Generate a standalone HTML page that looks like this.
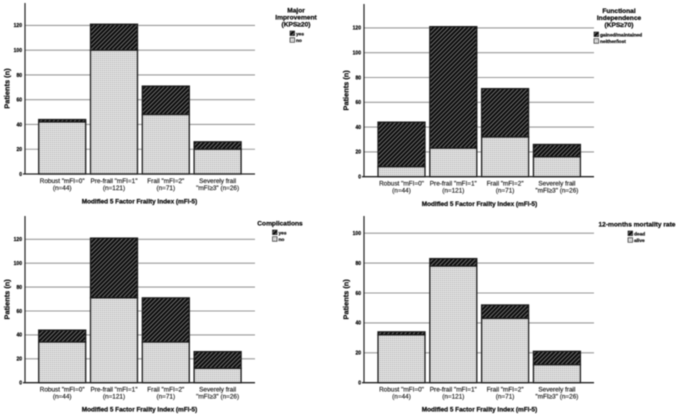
<!DOCTYPE html>
<html>
<head>
<meta charset="utf-8">
<style>
html,body{margin:0;padding:0;background:#fff;}
body{width:676px;height:414px;overflow:hidden;}
svg{display:block;filter:blur(0.4px);font-family:"Liberation Sans",sans-serif;}
text{stroke:#111;stroke-width:0.14px;}
text[font-weight="bold"]{stroke:#000;stroke-width:0.22px;}
</style>
</head>
<body>
<svg id="chart" width="676" height="414" viewBox="0 0 676 414" xmlns="http://www.w3.org/2000/svg">
  <defs>
    <pattern id="hatch" width="3" height="3" patternUnits="userSpaceOnUse" patternTransform="rotate(-45)">
      <rect width="3" height="3" fill="#0c0c0c"></rect>
      <rect width="3" height="0.75" fill="#8c8c8c"></rect>
    </pattern>
    <pattern id="dots" width="2" height="2" patternUnits="userSpaceOnUse">
      <rect width="2" height="2" fill="#e4e4e4"></rect>
      <rect width="0.9" height="0.9" fill="#a0a0a0"></rect>
    </pattern>
  </defs>
</svg>
<script>
var categoriesLine1 = ['Robust "mFI=0"', 'Pre-frail "mFI=1"', 'Frail "mFI=2"', 'Severely frail'];
var categoriesLine2 = ['(n=44)', '(n=121)', '(n=71)', '"mFI≥3" (n=26)'];
var xAxisTitle = 'Modified 5 Factor Frailty Index (mFI-5)';
var yAxisTitle = 'Patients (n)';

var improvementNo = [42, 100, 48, 20];
var improvementYes = [2, 21, 23, 6];
var independenceNeither = [8, 23, 32, 16];
var independenceGained = [36, 98, 39, 10];
var complicationsNo = [34, 71, 34, 12];
var complicationsYes = [10, 50, 37, 14];
var mortalityAlive = [32, 78, 43, 12];
var mortalityDead = [2, 5, 9, 9];

var ticksTo120 = [0, 20, 40, 60, 80, 100, 120];
var ticksTo100 = [0, 20, 40, 60, 80, 100];

var panels = [
  {name:'major-improvement', ox:0, x0:25, y0:174, yTop:3, pxPerUnit:1.238, xRight:255, barStart:38.7, barStep:51.8, yTitleX:9.5,
   ticks:ticksTo120, lower:improvementNo, upper:improvementYes,
   legendTitle:['Major','Improvement','(KPS≥20)'], titleX:296, titleY:12.5, legendLabels:['yes','no'], swatchX:290, swatchY:31, xTitleY:203.5},
  {name:'functional-independence', ox:340, x0:24, y0:176.7, yTop:4, pxPerUnit:1.24, xRight:254, barStart:38, barStep:51.8, yTitleX:8.5,
   ticks:ticksTo120, lower:independenceNeither, upper:independenceGained,
   legendTitle:['Functional','Independence','(KPS≥70)'], titleX:619, titleY:13, legendLabels:['gained/maintained','neither/lost'], swatchX:594, swatchY:32, xTitleY:206},
  {name:'complications', ox:0, x0:25, y0:382.7, yTop:216, pxPerUnit:1.195, xRight:255, barStart:38.7, barStep:51.8, yTitleX:9.5,
   ticks:ticksTo120, lower:complicationsNo, upper:complicationsYes,
   legendTitle:['Complications'], titleX:280, titleY:225.5, legendLabels:['yes','no'], swatchX:272.5, swatchY:230, xTitleY:411.5},
  {name:'mortality', ox:340, x0:24, y0:382.7, yTop:216, pxPerUnit:1.495, xRight:254, barStart:38, barStep:51.8, yTitleX:8.5,
   ticks:ticksTo100, lower:mortalityAlive, upper:mortalityDead,
   legendTitle:['12-months mortality rate'], titleX:637, titleY:226.5, legendLabels:['dead','alive'], swatchX:628, swatchY:231, xTitleY:411.5}
];

var NS = 'http://www.w3.org/2000/svg';
var svg = document.getElementById('chart');
var BAR_WIDTH = 47;

function make(parent, tag, attrs, text) {
  var el = document.createElementNS(NS, tag);
  for (var k in attrs) { el.setAttribute(k, attrs[k]); }
  if (text !== undefined) { el.textContent = text; }
  parent.appendChild(el);
  return el;
}

panels.forEach(function (p) {
  var yScale = function (v) { return p.y0 - v * p.pxPerUnit; };
  var left = p.ox + p.x0;
  var right = p.ox + p.xRight;
  var barX = function (i) { return p.ox + p.barStart + i * p.barStep; };

  var g = make(svg, 'g', {});
  
  

  p.ticks.forEach(function (t) {
    if (t > 0) {
      var grid = make(g, 'line', {x1:left, x2:right, y1:yScale(t), y2:yScale(t), stroke:'#999', 'stroke-width':1.1});
      
      
    }
    var tl = make(g, 'text', {x:left - 3, y:yScale(t) + 1.8, 'text-anchor':'end', 'font-size':5, 'font-weight':'bold', fill:'#111'}, t);
    
    
  });

  p.lower.forEach(function (low, i) {
    var top = low + p.upper[i];
    var upperBar = make(g, 'rect', {x:barX(i), y:yScale(top), width:BAR_WIDTH, height:yScale(low) - yScale(top), fill:'url(#hatch)', stroke:'#1c1c1c', 'stroke-width':1.3});
    
    
    var lowerBar = make(g, 'rect', {x:barX(i), y:yScale(low), width:BAR_WIDTH, height:yScale(0) - yScale(low), fill:'url(#dots)', stroke:'#1c1c1c', 'stroke-width':1.3});
    
    

    var cx = barX(i) + BAR_WIDTH / 2;
    var l1 = make(g, 'text', {x:cx, y:p.y0 + 9, 'text-anchor':'middle', 'font-size':6.4, fill:'#111'}, categoriesLine1[i]);
    
    
    var l2 = make(g, 'text', {x:cx, y:p.y0 + 16, 'text-anchor':'middle', 'font-size':6.4, fill:'#111'}, categoriesLine2[i]);
    
    
  });

  var yAxis = make(g, 'line', {x1:left, x2:left, y1:p.yTop, y2:p.y0, stroke:'#222', 'stroke-width':1.2});
  
  
  var xAxis = make(g, 'line', {x1:left - 2, x2:right, y1:p.y0, y2:p.y0, stroke:'#222', 'stroke-width':1.3});
  
  

  var midY = (p.y0 + p.yTop) / 2;
  var yTx = p.ox + p.yTitleX;
  var yT = make(g, 'text', {x:yTx, y:midY, 'text-anchor':'middle', 'font-size':7.4, 'font-weight':'bold', fill:'#111', transform:'rotate(-90 ' + yTx + ' ' + midY + ')'}, yAxisTitle);
  
  
  var xT = make(g, 'text', {x:p.ox + 139.5, y:p.xTitleY, 'text-anchor':'middle', 'font-size':6.4, 'font-weight':'bold', fill:'#111'}, xAxisTitle);
  
  

  p.legendTitle.forEach(function (line, i) {
    var lt = make(g, 'text', {x:p.titleX, y:p.titleY + i * 7, 'text-anchor':'middle', 'font-size':6.6, 'font-weight':'bold', fill:'#111'}, line);
    
    
  });
  p.legendLabels.forEach(function (label, i) {
    var sy = p.swatchY + i * 6.7;
    var sw = make(g, 'rect', {x:p.swatchX, y:sy, width:4.6, height:4.6, fill:i === 0 ? 'url(#hatch)' : 'url(#dots)', stroke:'#333', 'stroke-width':0.7});
    
    
    var st = make(g, 'text', {x:p.swatchX + 6, y:sy + 4.3, 'font-size':4.8, 'font-weight':'bold', fill:'#222'}, label);
    
    
  });
});
</script>
</body>
</html>
